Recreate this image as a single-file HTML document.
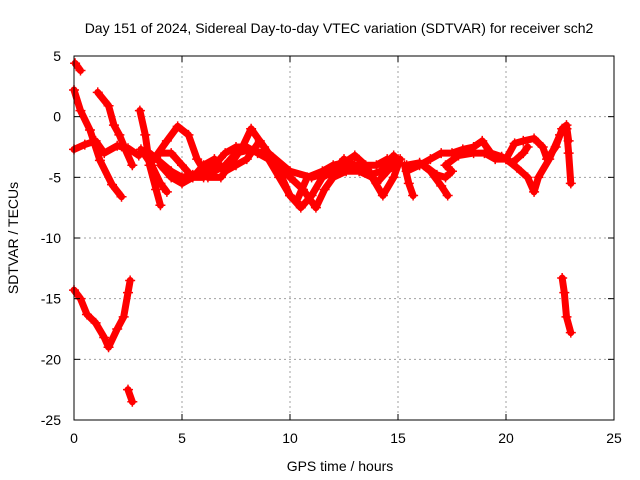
<!DOCTYPE html>
<html><head><meta charset="utf-8"><style>
body{margin:0;background:#fff}
svg{display:block;font-family:"Liberation Sans",sans-serif}
</style></head><body>
<svg id="chart" width="640" height="480" viewBox="0 0 640 480">
<rect width="640" height="480" fill="#fff"/>
<text x="339" y="33" font-size="14" text-anchor="middle">Day 151 of 2024, Sidereal Day-to-day VTEC variation (SDTVAR) for receiver sch2</text>
<g id="grid"></g><g id="series"></g><g id="axes"></g>
<text x="340" y="471" font-size="14" text-anchor="middle">GPS time / hours</text>
<text x="0" y="0" font-size="14" text-anchor="middle" transform="translate(18,238) rotate(-90)">SDTVAR / TECUs</text>
</svg>
<script>
const xTicks=[0,5,10,15,20,25];
const yTicks=[5,0,-5,-10,-15,-20,-25];
const track1=[[0.05,4.4],[0.3,3.8]];
const track2=[[0,2.2],[0.3,0.5],[0.74,-1.1],[1.2,-3.6],[1.76,-5.6],[2.2,-6.6]];
const track3=[[1.1,2],[1.6,0.9],[1.85,-0.7],[2.1,-1.5],[2.4,-2.8],[2.7,-4]];
const track4=[[0,-2.7],[0.5,-2.3],[1,-2],[1.4,-3],[2,-2.4],[2.5,-2.6],[3,-3.2]];
const track5=[[3.05,0.5],[3.3,-1.5],[3.5,-4],[3.8,-6],[4,-7.3]];
const track6=[[3.1,-2.7],[3.6,-4],[4,-5.5],[4.3,-6.2]];
const trackA=[[3.5,-4],[4.3,-2],[4.8,-0.8],[5.3,-1.5],[5.7,-3.5],[6.2,-5],[6.8,-5],[7.3,-3.8],[7.8,-2.5],[8.2,-1],[8.8,-2.5],[9.5,-4.5],[10,-6.5],[10.5,-7.5],[11,-6.5],[11.5,-5],[12,-4.5],[12.5,-3.5],[13,-4],[13.7,-4.8],[14.2,-4.5],[14.8,-3.2]];
const trackB=[[3.5,-3],[4.5,-4.5],[5,-5],[5.5,-4.8],[6,-4.5],[6.5,-4],[7,-3],[7.5,-2.5],[8,-2.5],[8.5,-3],[9,-3.5],[9.5,-5],[10,-6.5],[10.3,-7],[10.8,-5],[11.5,-4.5],[12,-4],[12.5,-3.8],[13,-3.2],[13.5,-4],[14,-5.5],[14.5,-4.5],[15,-3.5]];
const trackC=[[4,-3],[4.5,-3],[5,-4],[5.5,-5],[6,-4],[6.5,-3.5],[7,-4.5],[7.5,-4],[8,-3.5],[8.6,-2],[9,-3],[9.5,-4],[10,-5],[10.6,-6],[11.2,-7.5],[11.6,-6],[12,-5],[12.6,-4.5],[13.2,-4.5],[13.8,-5],[14.3,-6.5],[14.8,-5],[15.1,-3.5]];
const trackD=[[4,-4],[4.5,-5],[5,-5.5],[5.5,-5],[6,-5],[7,-4],[7.5,-3],[8,-2.8],[9,-3],[10,-4.5],[11,-5],[12,-4.5],[13,-4],[14,-4],[14.5,-3.5]];
const trackE=[[15.3,-4],[15.5,-5.5],[15.7,-6.5]];
const trackF=[[15.4,-4],[16,-3.8],[16.5,-4.5],[17,-5.7],[17.3,-6.5]];
const trackG=[[15.4,-4.5],[16,-4],[16.5,-3.5],[17,-3],[17.5,-3],[18,-2.7],[18.5,-2.5],[18.9,-2],[19.3,-3],[19.8,-3.3],[20.3,-3.8],[20.8,-3],[21,-2.5]];
const trackH=[[16.2,-4],[16.8,-4.8],[17.2,-5],[17.5,-4.5],[17.2,-4],[17.8,-3.2],[18.5,-3],[19,-3],[19.5,-3.5],[20,-3.5],[20.4,-2.2],[20.8,-2],[21.3,-1.8],[21.7,-2.5],[21.9,-3.5],[22.3,-2.5],[22.6,-1],[22.8,-0.7],[22.9,-2]];
const trackI=[[20,-3.5],[20.5,-4.2],[21,-5],[21.3,-6.2],[21.5,-5],[22,-3.5],[22.5,-1.5]];
const trackJ=[[22.8,-1],[22.9,-3],[23,-5.5]];
const trackK=[[0,-14.3],[0.3,-15],[0.6,-16.3],[1,-17],[1.4,-18.2],[1.6,-19],[2,-17.5],[2.3,-16.5],[2.5,-14.5],[2.6,-13.5]];
const trackL=[[2.5,-22.5],[2.7,-23.5]];
const trackM=[[22.6,-13.3],[22.7,-14.5],[22.8,-16.5],[23,-17.8]];
const tracks=[track1,track2,track3,track4,track5,track6,trackA,trackB,trackC,trackD,trackE,trackF,trackG,trackH,trackI,trackJ,trackK,trackL,trackM];

const L=74,R=614,T=56,B=420,xmin=0,xmax=25,ymin=-25,ymax=5;
const xs=v=>L+(v-xmin)/(xmax-xmin)*(R-L);
const ys=v=>B-(v-ymin)/(ymax-ymin)*(B-T);
const NS='http://www.w3.org/2000/svg';
function mk(tag,attrs,parent){const e=document.createElementNS(NS,tag);for(const k in attrs)e.setAttribute(k,attrs[k]);parent.appendChild(e);return e;}
const grid=document.getElementById('grid'),axes=document.getElementById('axes'),series=document.getElementById('series');
xTicks.forEach(t=>{
  const x=xs(t);
  if(t>xmin&&t<xmax){const g=mk('line',{x1:x,x2:x,y1:T,y2:B,stroke:'#a0a0a0','stroke-dasharray':'2,3'},grid);
  
  }
  mk('line',{x1:x,x2:x,y1:B,y2:B-6,stroke:'#000'},axes);
  mk('line',{x1:x,x2:x,y1:T,y2:T+6,stroke:'#000'},axes);
  const lb=mk('text',{x:x,y:443,'font-size':14,'text-anchor':'middle'},axes);lb.textContent=t;
  
  
});
yTicks.forEach(t=>{
  const y=ys(t);
  if(t>ymin&&t<ymax){const g=mk('line',{x1:L,x2:R,y1:y,y2:y,stroke:'#a0a0a0','stroke-dasharray':'2,3'},grid);
  
  }
  mk('line',{x1:L,x2:L+6,y1:y,y2:y,stroke:'#000'},axes);
  mk('line',{x1:R,x2:R-6,y1:y,y2:y,stroke:'#000'},axes);
  const lb=mk('text',{x:61,y:y+5,'font-size':14,'text-anchor':'end'},axes);lb.textContent=t;
  
  
});
const frame=mk('rect',{x:L,y:T,width:R-L,height:B-T,fill:'none',stroke:'#000'},axes);


tracks.forEach(tr=>{
  const pl=mk('polyline',{points:tr.map(p=>xs(p[0])+','+ys(p[1])).join(' '),fill:'none',stroke:'#ff0000','stroke-width':7,'stroke-linejoin':'round','stroke-linecap':'round'},series);
  
  
  tr.forEach(p=>{
    const x=xs(p[0]),y=ys(p[1]);
    const m=mk('path',{d:`M${x-5},${y}H${x+5}M${x},${y-5}V${y+5}`,stroke:'#ff0000','stroke-width':1.5},series);
    
    
  });
});
</script>
</body></html>
